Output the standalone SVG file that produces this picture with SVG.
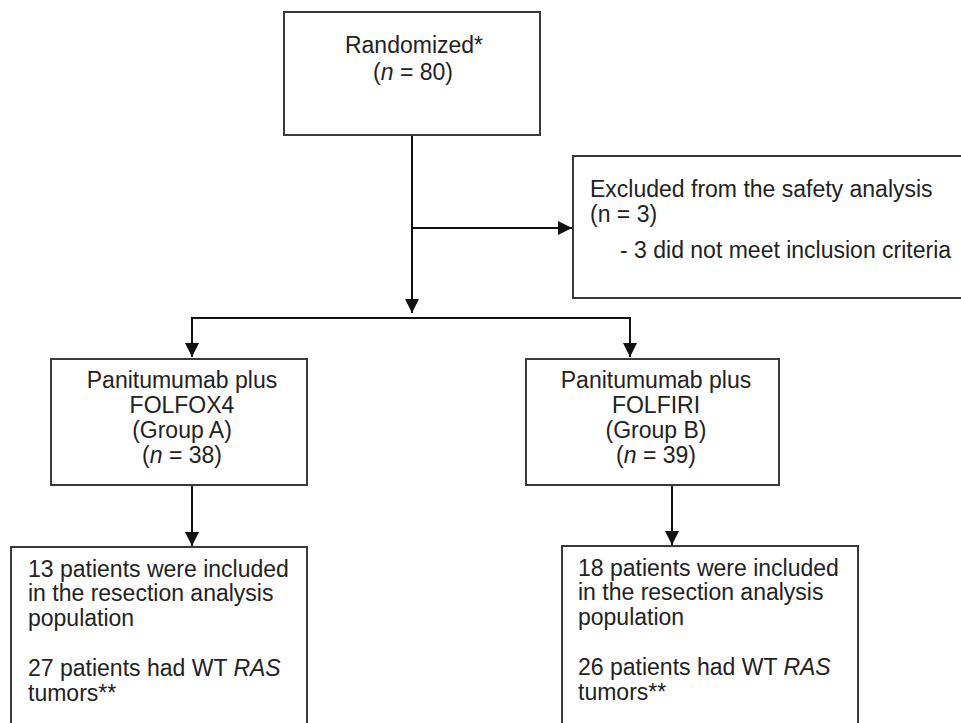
<svg xmlns="http://www.w3.org/2000/svg" width="961" height="723" viewBox="0 0 961 723">
<defs>
<style>
.box{fill:#fff;stroke:#3a3a3a;stroke-width:2}
.t{font-family:"Liberation Sans",Arial,sans-serif;font-size:23px;fill:#222}
.c{text-anchor:middle}
.ln{fill:none;stroke:#111;stroke-width:2}
</style>
<marker id="ah" markerUnits="userSpaceOnUse" markerWidth="14" markerHeight="14" viewBox="0 0 14 14" refX="14" refY="7" orient="auto">
<path d="M0,0 L14,7 L0,14 Z" fill="#111"/>
</marker>
</defs>
<rect width="961" height="723" fill="#fff"/>
<g id="connectors">
<path class="ln" d="M412,135 V313" marker-end="url(#ah)"/>
<path class="ln" d="M412,228 H572" marker-end="url(#ah)"/>
<path class="ln" d="M192,357 V318 H630 V357" marker-end="url(#ah)"/>
<path class="ln" d="M192,318 V357" marker-end="url(#ah)"/>
<path class="ln" d="M192,485 V546" marker-end="url(#ah)"/>
<path class="ln" d="M672,485 V545" marker-end="url(#ah)"/>
</g>
<g id="randomized">
<rect class="box" x="284" y="12" width="256" height="123"/>
<text class="t c" x="414" y="53">Randomized*</text>
<text class="t c" x="413" y="80">(<tspan font-style="italic">n</tspan> = 80)</text>
</g>
<g id="excluded">
<rect class="box" x="573" y="156" width="395" height="142"/>
<text class="t" x="590" y="197">Excluded from the safety analysis</text>
<text class="t" x="590" y="222">(n = 3)</text>
<text class="t" x="620" y="258">- 3 did not meet inclusion criteria</text>
</g>
<g id="groupA">
<rect class="box" x="51" y="359" width="256" height="126"/>
<text class="t c" x="182" y="388">Panitumumab plus</text>
<text class="t c" x="182" y="413">FOLFOX4</text>
<text class="t c" x="182" y="438">(Group A)</text>
<text class="t c" x="182" y="463">(<tspan font-style="italic">n</tspan> = 38)</text>
</g>
<g id="groupB">
<rect class="box" x="526" y="359" width="253" height="126"/>
<text class="t c" x="656" y="388">Panitumumab plus</text>
<text class="t c" x="656" y="413">FOLFIRI</text>
<text class="t c" x="656" y="438">(Group B)</text>
<text class="t c" x="656" y="463">(<tspan font-style="italic">n</tspan> = 39)</text>
</g>
<g id="resectionA">
<rect class="box" x="11" y="547" width="296" height="190"/>
<text class="t" x="28" y="577">13 patients were included</text>
<text class="t" x="28" y="601">in the resection analysis</text>
<text class="t" x="28" y="626">population</text>
<text class="t" x="28" y="676">27 patients had WT <tspan font-style="italic">RAS</tspan></text>
<text class="t" x="28" y="701">tumors**</text>
</g>
<g id="resectionB">
<rect class="box" x="562" y="546" width="296" height="190"/>
<text class="t" x="578" y="576">18 patients were included</text>
<text class="t" x="578" y="600">in the resection analysis</text>
<text class="t" x="578" y="625">population</text>
<text class="t" x="578" y="675">26 patients had WT <tspan font-style="italic">RAS</tspan></text>
<text class="t" x="578" y="700">tumors**</text>
</g>
</svg>
